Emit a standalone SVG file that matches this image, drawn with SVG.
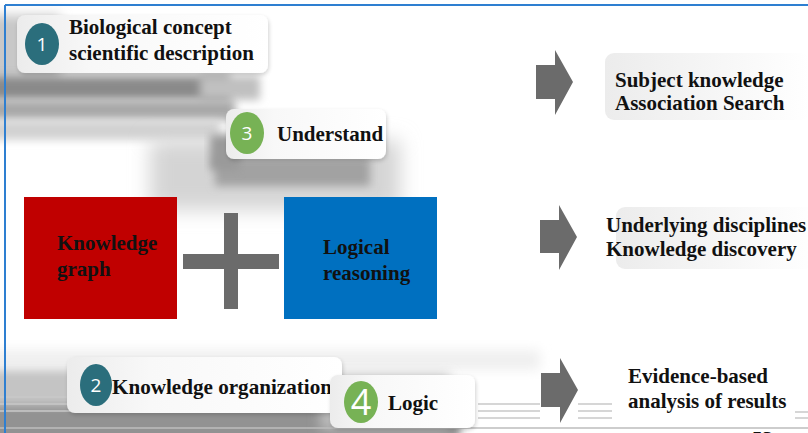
<svg xmlns="http://www.w3.org/2000/svg" width="808" height="433" viewBox="0 0 808 433">
<defs>
<style>
.t{font-family:"Liberation Serif","Times New Roman",serif;font-weight:bold;font-size:21px;fill:#111}
.n{font-family:"Open Sans","Noto Sans",sans-serif;fill:#fff;text-anchor:middle}
.arr{fill:#6b6b6b}
.lbl{fill:url(#lg);filter:url(#sh)}
.bl{stroke:#c8c8c8;stroke-width:1.5}
</style>
<filter id="b4" x="-20%" y="-50%" width="140%" height="200%"><feGaussianBlur stdDeviation="4"/></filter>
<filter id="b6" x="-20%" y="-50%" width="140%" height="200%"><feGaussianBlur stdDeviation="6"/></filter>
<filter id="b10" x="-30%" y="-60%" width="160%" height="220%"><feGaussianBlur stdDeviation="10"/></filter>
<filter id="sh" x="-10%" y="-20%" width="120%" height="150%"><feGaussianBlur in="SourceAlpha" stdDeviation="2"/><feOffset dx="1" dy="2"/><feComponentTransfer><feFuncA type="linear" slope="0.18"/></feComponentTransfer><feMerge><feMergeNode/><feMergeNode in="SourceGraphic"/></feMerge></filter>
<linearGradient id="lg" x1="0" y1="0" x2="1" y2="0"><stop offset="0" stop-color="#ececec"/><stop offset="0.3" stop-color="#f8f8f8"/><stop offset="1" stop-color="#ffffff"/></linearGradient>
<linearGradient id="rg" x1="0" y1="0" x2="1" y2="0"><stop offset="0" stop-color="#ececec"/><stop offset="1" stop-color="#ffffff"/></linearGradient>
</defs>
<rect width="808" height="433" fill="#fff"/>
<g id="background">
<rect x="-20" y="15" width="80" height="65" fill="#c8c8c8" filter="url(#b6)"/>
<rect x="-20" y="76" width="250" height="24" fill="#8a8a8a" filter="url(#b4)"/>
<rect x="200" y="76" width="60" height="24" fill="#c0c0c0" filter="url(#b4)"/>
<rect x="-20" y="100" width="255" height="20" fill="#a8a8a8" filter="url(#b4)"/>
<rect x="-20" y="120" width="240" height="20" fill="#d2d2d2" filter="url(#b4)"/>
<rect x="150" y="140" width="250" height="70" fill="#d4d4d4" filter="url(#b10)"/>
<rect x="215" y="158" width="155" height="28" fill="#a2a2a2" filter="url(#b4)"/>
<rect x="210" y="135" width="30" height="35" fill="#9a9a9a" filter="url(#b4)"/>
<rect x="-20" y="350" width="560" height="20" fill="#efefef" filter="url(#b6)"/>
<rect x="-20" y="370" width="330" height="40" fill="#c4c4c4" filter="url(#b4)"/>
<rect x="-20" y="405" width="480" height="40" fill="#929292" filter="url(#b4)"/>
<rect x="320" y="375" width="130" height="55" fill="#bbb" filter="url(#b6)"/>
</g>
<g id="lines">
<line class="bl" x1="0" y1="397" x2="80" y2="397"/>
<line class="bl" x1="0" y1="404" x2="80" y2="404"/>
<line class="bl" x1="0" y1="411" x2="80" y2="411"/>
<line class="bl" x1="478" y1="404" x2="540" y2="404"/>
<line class="bl" x1="478" y1="411" x2="540" y2="411"/>
<line class="bl" x1="478" y1="418" x2="540" y2="418"/>
<line class="bl" x1="578" y1="404" x2="612" y2="404"/>
<line class="bl" x1="578" y1="411" x2="612" y2="411"/>
<line class="bl" x1="578" y1="418" x2="612" y2="418"/>
<line class="bl" x1="795" y1="412" x2="808" y2="412"/>
<line class="bl" x1="795" y1="418" x2="808" y2="418"/>
<line x1="0" y1="428" x2="808" y2="428" stroke="#bdbdbd" stroke-width="1.5"/>
</g>
<line x1="5" y1="5" x2="808" y2="5" stroke="#2e7fd1" stroke-width="2"/>
<line x1="5" y1="5" x2="5" y2="433" stroke="#2e7fd1" stroke-width="2"/>
<g id="n1">
<rect class="lbl" x="17" y="15" width="251" height="58" rx="8"/>
<ellipse cx="42" cy="44" rx="17" ry="21" fill="#2b6e7c"/>
<text class="n" x="42" y="51" font-size="19">1</text>
<text class="t" x="69" y="34">Biological concept</text>
<text class="t" x="69" y="60">scientific description</text>
</g>
<g id="n3">
<rect class="lbl" x="226" y="109" width="160" height="50" rx="8"/>
<ellipse cx="247" cy="133" rx="17" ry="21" fill="#77b255"/>
<text class="n" x="247" y="140" font-size="19">3</text>
<text class="t" x="277" y="141">Understand</text>
</g>
<g id="n2">
<rect class="lbl" x="67" y="357" width="275" height="56" rx="8"/>
<ellipse cx="96" cy="385" rx="16" ry="21" fill="#2b6e7c"/>
<text class="n" x="96" y="392" font-size="19">2</text>
<text class="t" x="112" y="394" textLength="220" lengthAdjust="spacingAndGlyphs">Knowledge organization</text>
</g>
<g id="n4">
<rect class="lbl" x="330" y="375" width="145" height="53" rx="8"/>
<ellipse cx="361" cy="402" rx="17" ry="21" fill="#77b255"/>
<text class="n" x="361" y="415" font-size="36">4</text>
<text class="t" x="388" y="410">Logic</text>
</g>
<g id="kg">
<rect x="24" y="197" width="153" height="122" fill="#c00000"/>
<text class="t" x="57" y="250">Knowledge</text>
<text class="t" x="57" y="276">graph</text>
</g>
<g id="plus">
<rect x="224" y="213" width="14" height="96" fill="#6b6b6b"/>
<rect x="183" y="254" width="96" height="15" fill="#6b6b6b"/>
</g>
<g id="lr">
<rect x="284" y="197" width="153" height="122" fill="#0070c0"/>
<text class="t" x="323" y="254">Logical</text>
<text class="t" x="323" y="280">reasoning</text>
</g>
<g id="connectors">
<polygon class="arr" points="536,65 555,65 555,50 573,82 555,115 555,99 536,99"/>
<polygon class="arr" points="540,220 559,220 559,205 577,237 559,270 559,253 540,253"/>
<polygon class="arr" points="541,373 560,373 560,358 578,390 560,423 560,407 541,407"/>
</g>
<g id="r1">
<rect x="605" y="53" width="205" height="67" rx="9" fill="url(#rg)"/>
<text class="t" x="615" y="87">Subject knowledge</text>
<text class="t" x="615" y="110">Association Search</text>
</g>
<g id="r2">
<rect x="616" y="207" width="200" height="62" rx="9" fill="url(#rg)"/>
<text class="t" x="606" y="232">Underlying disciplines</text>
<text class="t" x="606" y="256">Knowledge discovery</text>
</g>
<g id="r3">
<text class="t" x="628" y="383">Evidence-based</text>
<text class="t" x="628" y="408">analysis of results</text>
</g>
<text class="t" x="752" y="446" font-size="22">53</text>
</svg>
